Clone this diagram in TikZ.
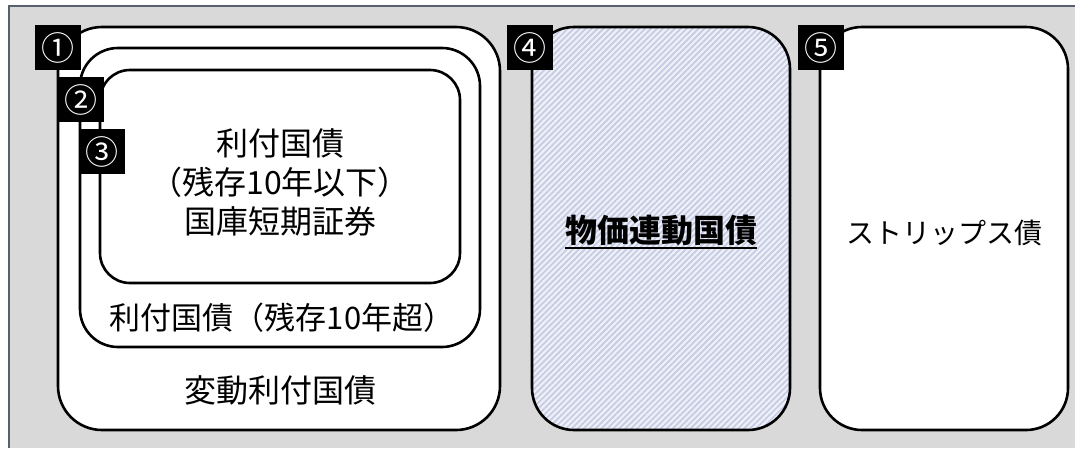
\documentclass[tikz,border=0pt]{standalone}
\usepackage{fontspec}
\setmainfont{Noto Sans CJK JP}
\usetikzlibrary{patterns.meta}
\definecolor{bgray}{HTML}{D9D9D9}
\definecolor{framec}{HTML}{56606E}
\definecolor{lav}{HTML}{C6CBE4}
\definecolor{lavbg}{HTML}{EEF0F8}
\newsavebox\ulbox
\newcommand\thickul[1]{\sbox\ulbox{#1}\rlap{\rule[-7pt]{\wd\ulbox}{2pt}}\usebox\ulbox}
\begin{document}
\begin{tikzpicture}[x=1pt,y=-1pt,
  box/.style={draw=black, line width=2.6pt, fill=white, inner sep=0pt},
  tag/.style={fill=black, text=white, minimum width=46pt, minimum height=45pt, inner sep=0pt, font=\fontsize{33}{33}\selectfont},
  txt/.style={font=\fontsize{32}{39}\selectfont, align=center, inner sep=0pt}]
\useasboundingbox (0,0) rectangle (1075,448);
\fill[bgray] (9,6) rectangle (1075,448);
\draw[framec, line width=2pt] (9,448) -- (9,6) -- (1075,6);
% boxes
\node[box, rounded corners=44pt, minimum width=442pt, minimum height=403pt] (b1) at (279,228.5) {};
\node[box, rounded corners=38pt, minimum width=400pt, minimum height=299pt] (b2) at (280,197.5) {};
\node[box, rounded corners=30pt, minimum width=360pt, minimum height=213pt] (b3) at (280,176.5) {};
\node[box, rounded corners=42pt, minimum width=258pt, minimum height=403pt, fill=none,
      preaction={fill=lavbg},
      preaction={pattern={Lines[angle=45,distance=4.2pt,line width=1.7pt]}, pattern color=lav}] (b4) at (661,228.5) {};
\node[box, rounded corners=42pt, minimum width=248pt, minimum height=403pt] (b5) at (944,228.5) {};
% texts
\node[txt] (t3) at (280,182) {利付国債\\（残存10年以下）\\国庫短期証券};
\node[txt, font=\fontsize{31}{36}\selectfont] (t2) at (282,318) {利付国債（残存10年超）};
\node[txt] (t1) at (280,390) {変動利付国債};
\node[txt, anchor=base, font=\bfseries\fontsize{32}{39}\selectfont] (t4) at (661,242) {\thickul{物価連動国債}};
\node[txt, font=\fontsize{28}{34}\selectfont] (t5) at (944,233) {ストリップス債};
% tags
\node[tag] (n1) at (58,47.5) {①};
\node[tag] (n2) at (80.5,99.5) {②};
\node[tag] (n3) at (101.5,151.5) {③};
\node[tag] (n4) at (529.5,47.5) {④};
\node[tag] (n5) at (821,47.5) {⑤};
\end{tikzpicture}
\end{document}
